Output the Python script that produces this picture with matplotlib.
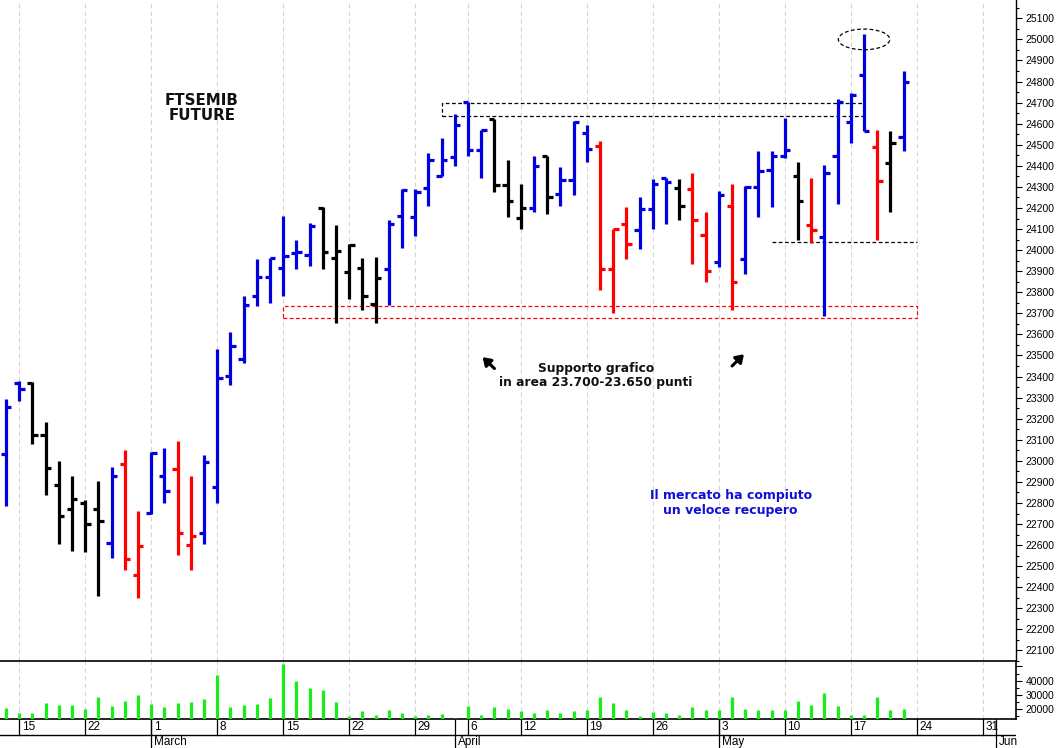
import numpy as np
import pandas as pd
import matplotlib
matplotlib.use("Agg")
import matplotlib.pyplot as plt
from matplotlib.patches import Rectangle, Ellipse

# Trading calendar (Borsa Italiana closed on Good Friday and Easter Monday)
holidays = ["2021-04-02", "2021-04-05"]
calendar = [d for d in pd.bdate_range("2021-02-12", "2021-06-02") if d.strftime("%Y-%m-%d") not in holidays]

# Daily OHLC bars, Feb 12 -> May 21
opens = [23032, 23370, 23370, 23122, 22886, 22769, 22800, 22772, 22609, 22985,
         22459, 22751, 22927, 22961, 22601, 22658, 22878, 23403, 23485, 23782,
         23872, 23916, 23987, 23976, 24200, 23964, 23895, 23913, 23743, 23908,
         24161, 24156, 24295, 24353, 24442, 24705, 24477, 24622, 24311, 24153,
         24200, 24449, 24267, 24334, 24558, 24495, 23912, 24125, 24094, 24197,
         24340, 24295, 24292, 24074, 23945, 24211, 23956, 24298, 24382, 24449,
         24353, 24121, 24061, 24448, 24610, 24832, 24487, 24413, 24535]
highs = [23293, 23379, 23373, 23182, 23001, 22927, 22816, 22906, 22969, 23051,
         22761, 23040, 23061, 23092, 22929, 23029, 23533, 23611, 23782, 23956,
         23964, 24161, 24047, 24129, 24205, 24117, 24027, 23964, 23967, 24145,
         24290, 24292, 24461, 24532, 24647, 24705, 24571, 24622, 24426, 24314,
         24445, 24449, 24393, 24614, 24595, 24520, 24098, 24205, 24252, 24338,
         24344, 24338, 24366, 24181, 24279, 24314, 24303, 24472, 24472, 24626,
         24416, 24342, 24402, 24718, 24745, 25024, 24571, 24563, 24850]
lows = [22786, 23283, 23080, 22838, 22606, 22570, 22567, 22357, 22540, 22483,
        22350, 22748, 22800, 22551, 22484, 22603, 22800, 23361, 23463, 23735,
        23747, 23782, 23908, 23924, 23908, 23653, 23766, 23716, 23653, 23738,
        24011, 24066, 24208, 24350, 24397, 24445, 24342, 24274, 24158, 24098,
        24181, 24173, 24208, 24263, 24416, 23809, 23700, 23959, 24006, 24098,
        24125, 24145, 23932, 23848, 23919, 23716, 23885, 24158, 24203, 24437,
        24047, 24035, 23687, 24221, 24508, 24563, 24047, 24181, 24472]
closes = [23255, 23342, 23122, 22966, 22740, 22819, 22701, 22714, 22927, 22535,
          22595, 23036, 22856, 22658, 22645, 22993, 23395, 23545, 23738, 23872,
          23964, 23971, 23990, 24113, 23992, 23998, 24022, 23782, 23869, 24126,
          24287, 24276, 24429, 24429, 24595, 24477, 24568, 24307, 24235, 24200,
          24401, 24251, 24334, 24606, 24480, 23912, 24098, 24031, 24197, 24315,
          24325, 24208, 24145, 23903, 24263, 23850, 24298, 24377, 24449, 24476,
          24235, 24094, 24366, 24702, 24737, 24563, 24330, 24508, 24797]
bar_colors = "bbkkkkkkbrrbbrrbbbbbbbbbkkkkkbbbbbbbbkkkbkbbbrrrbbbkrrbrbbbbkrbbbbrkb"

# Daily volume of the future
volumes = [20400, 16800, 17200, 24500, 22500, 22500, 19700, 28500, 21800, 25900,
           30000, 23800, 21100, 24500, 25200, 27100, 43700, 21100, 22500, 23500,
           27400, 51600, 39900, 35100, 33600, 25200, 15300, 18500, 16000, 19200,
           16800, 14800, 16000, 16300, 13600, 22100, 16000, 21100, 19900, 18500,
           17100, 19500, 17100, 18300, 19500, 28400, 24100, 19500, 15100, 17600,
           17100, 15900, 21400, 19500, 19500, 28400, 20000, 19500, 19500, 19000,
           25500, 22900, 31300, 21700, 15600, 15900, 28400, 19500, 20200]

price_ticks = list(range(22100, 25101, 100))
volume_ticks = [20000, 30000, 40000, 50000]
volume_labels = ["20000", "30000", "40000", ""]

palette = {"b": "#0000e0", "r": "#ff0000", "k": "#000000"}
font = "Liberation Sans"

W, H = 1063, 748
fig = plt.figure(figsize=(W / 100, H / 100), dpi=100, facecolor="white")
ax = fig.add_axes([0, 1 - 661 / H, 1016 / W, 661 / H])
axv = fig.add_axes([0, 1 - 719 / H, 1016 / W, 58 / H])
axd = fig.add_axes([0, 0, 1016 / W, 29 / H])

x = np.arange(len(opens))
colors = [palette[c] for c in bar_colors]
xlim = (-0.46, 76.51)

# Week starts (first session of each week) and month starts
weeks = [i for i, d in enumerate(calendar) if i > 0 and d.weekday() < calendar[i - 1].weekday()]
months = [i for i, d in enumerate(calendar) if i > 0 and d.month != calendar[i - 1].month]

# --- price panel -----------------------------------------------------------
for w in weeks:
    ax.axvline(w, color="#d4d4d4", lw=0.8, ls=(0, (4, 3)), zorder=0)
    axv.axvline(w, color="#d4d4d4", lw=0.8, ls=(0, (4, 3)), zorder=0)

tick = 0.4
ax.vlines(x, lows, highs, colors=colors, lw=2.3, capstyle="butt", zorder=3)
ax.hlines(opens, x - tick, x, colors=colors, lw=2.3, zorder=3)
ax.hlines(closes, x, x + tick, colors=colors, lw=2.3, zorder=3)

ax.set_xlim(*xlim)
ax.set_ylim(22057, 25187)
ax.yaxis.tick_right()
ax.set_yticks(price_ticks)
ax.set_yticks([p + 50 for p in price_ticks[:-1]] + [22050, 25150], minor=True)
ax.tick_params(axis="y", which="major", length=4, width=0.8, pad=3, labelsize=7.5)
ax.tick_params(axis="y", which="minor", length=2.5, width=0.8)
for lab in ax.get_yticklabels():
    lab.set_fontfamily(font)
ax.set_xticks([])
for s in ["left", "top"]:
    ax.spines[s].set_visible(False)
ax.spines["right"].set_linewidth(1.0)
ax.spines["bottom"].set_visible(False)

# Resistance box, support box, intraday support line, new high
ax.add_patch(Rectangle((33, 24635), 32, 65, fill=False, ec="black", lw=0.9, ls=(0, (3, 2)), zorder=2))
ax.add_patch(Rectangle((21, 23680), 48, 55, fill=False, ec="#ff0000", lw=0.9, ls=(0, (3, 2)), zorder=2))
ax.hlines(24039, 58, 69, colors="black", lw=0.9, ls=(0, (3, 2)), zorder=2)
ax.add_patch(Ellipse((65, 25000), 3.9, 98, fill=False, ec="black", lw=0.9, ls=(0, (3, 2)), zorder=4))

ax.text(14.84, 24675, "FTSEMIB\nFUTURE", ha="center", va="center", fontsize=10.8,
        fontweight="bold", family="DejaVu Sans", linespacing=1.05, color="#111111")
ax.text(44.67, 23406, "Supporto grafico\nin area 23.700-23.650 punti", ha="center", va="center",
        fontsize=8.8, fontweight="bold", family="DejaVu Sans", linespacing=1.1, color="#111111")
ax.text(54.9, 22800, "Il mercato ha compiuto\nun veloce recupero", ha="center", va="center",
        fontsize=9, fontweight="bold", family="DejaVu Sans", linespacing=1.25, color="#1010d8")

arrow = dict(arrowstyle="-|>,head_width=0.3,head_length=0.45", lw=2.2, color="black", shrinkA=0, shrinkB=0)
ax.annotate("", xy=(36.1, 23492), xytext=(37.0, 23438), arrowprops=arrow)
ax.annotate("", xy=(55.9, 23506), xytext=(55.0, 23450), arrowprops=arrow)

# --- volume panel ----------------------------------------------------------
axv.vlines(x, 12860, volumes, colors="#18ee18", lw=2.3, capstyle="butt", zorder=3)
axv.set_xlim(*xlim)
axv.set_ylim(12860, 53850)
axv.yaxis.tick_right()
axv.set_yticks(volume_ticks)
axv.set_yticklabels(volume_labels)
axv.set_yticks([15000, 25000, 35000, 45000], minor=True)
axv.tick_params(axis="y", which="major", length=4, width=0.8, pad=3, labelsize=7.5)
axv.tick_params(axis="y", which="minor", length=2.5, width=0.8)
for lab in axv.get_yticklabels():
    lab.set_fontfamily(font)
axv.set_xticks([])
axv.spines["left"].set_visible(False)
for s in ["top", "bottom", "right"]:
    axv.spines[s].set_linewidth(1.2)

# --- date strip ------------------------------------------------------------
axd.set_xlim(*xlim)
axd.set_ylim(0, 29)
axd.axis("off")
axd.axhline(13.2, color="black", lw=1.0)
for w in weeks:
    axd.plot([w, w], [13.2, 29], color="black", lw=0.9)
    axd.text(w + 0.2, 20.5, str(calendar[w].day), ha="left", va="center", fontsize=8.5, family=font)
for m in months:
    axd.plot([m, m], [0, 29], color="black", lw=0.9)
    name = "Jun" if calendar[m].month == 6 else calendar[m].strftime("%B")
    axd.text(m + 0.2, 6.0, name, ha="left", va="center", fontsize=8.5, family=font)

fig.savefig("out.png", dpi=100, facecolor="white")
